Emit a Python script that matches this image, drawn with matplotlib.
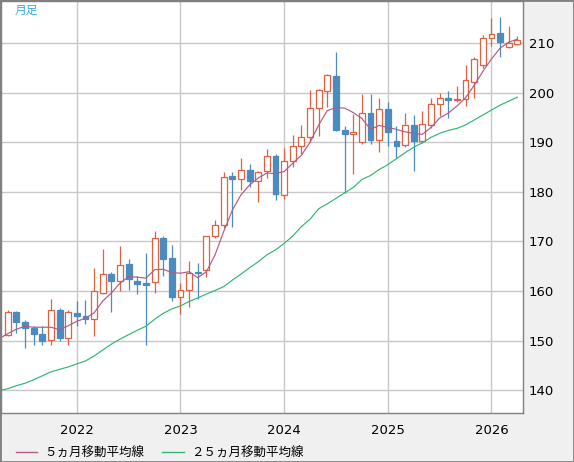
import matplotlib.pyplot as plt
import pandas as pd
from matplotlib.patches import Rectangle
from matplotlib.lines import Line2D

# months for the moving averages (first one has no candle, it is left of the plot)
months = pd.period_range("2021-04", "2026-04", freq="M")

# monthly candles 2021-05 .. 2026-04
opens = [151.1, 155.8, 153.8, 152.6, 151.3, 150.1, 156.2, 150.5, 155.5, 155.0,
         154.3, 159.7, 163.4, 162.1, 165.5, 162.1, 161.7, 161.8, 170.6, 166.7,
         158.7, 160.3, 163.8, 164.2, 171.0, 173.3, 183.2, 182.5, 184.4, 182.1,
         184.2, 187.2, 179.4, 186.3, 189.3, 191.0, 197.0, 200.4, 203.4, 192.5,
         191.7, 190.0, 196.0, 190.4, 196.8, 190.2, 189.5, 193.5, 190.2, 193.5,
         197.7, 198.9, 198.5, 198.8, 202.2, 205.5, 211.1, 212.1, 209.3, 209.8]
highs = [156.2, 156.0, 154.2, 153.0, 152.9, 158.4, 156.5, 156.2, 157.9, 158.2,
         164.7, 168.5, 163.9, 169.0, 166.5, 163.1, 167.7, 172.1, 171.0, 169.2,
         161.7, 166.0, 165.6, 171.2, 174.3, 184.0, 184.0, 186.9, 185.7, 184.2,
         188.6, 187.6, 188.9, 191.5, 193.5, 200.6, 200.8, 203.8, 208.2, 193.2,
         195.8, 199.7, 199.7, 198.9, 198.2, 193.2, 196.0, 195.6, 196.4, 198.9,
         199.9, 200.4, 201.4, 205.5, 207.3, 211.7, 215.0, 215.2, 213.4, 211.5]
lows = [151.0, 151.5, 148.5, 149.2, 149.2, 149.2, 149.9, 149.1, 152.9, 153.4,
        151.0, 159.5, 155.7, 160.0, 160.2, 159.5, 149.1, 159.7, 163.1, 158.0,
        155.3, 156.7, 158.4, 162.8, 170.6, 172.8, 173.0, 180.3, 181.0, 178.0,
        182.7, 178.4, 178.5, 185.1, 187.6, 190.1, 191.3, 197.2, 192.2, 179.8,
        183.6, 189.6, 189.6, 188.0, 189.2, 186.9, 189.0, 184.2, 189.8, 192.8,
        195.3, 195.0, 198.2, 197.4, 199.0, 205.0, 209.5, 207.2, 209.0, 209.6]
closes = [155.7, 153.7, 152.5, 151.3, 149.9, 156.1, 150.5, 155.8, 154.9, 154.3,
          160.0, 163.4, 162.1, 165.2, 162.4, 161.5, 161.3, 170.6, 166.5, 158.7,
          160.3, 163.7, 163.6, 171.0, 173.3, 183.1, 182.5, 184.4, 182.2, 184.0,
          187.2, 179.6, 186.3, 189.3, 191.0, 197.0, 200.6, 203.5, 192.5, 191.7,
          192.1, 196.0, 190.4, 196.7, 192.1, 189.2, 193.5, 190.2, 193.7, 197.7,
          198.9, 198.5, 198.8, 202.6, 206.8, 211.1, 211.8, 210.3, 210.0, 210.6]

# moving averages 2021-04 .. 2026-04
ma5 = [150.4,
       151.4, 152.3, 152.9, 152.7, 152.7, 152.7, 152.2, 153.0, 153.9, 154.5,
       155.6, 158.0, 159.6, 161.6, 162.9, 162.8, 162.6, 164.3, 164.4, 163.7,
       163.6, 163.9, 162.7, 163.9, 167.3, 172.0, 176.3, 179.4, 181.4, 182.8,
       183.8, 183.7, 184.1, 185.8, 187.4, 190.0, 193.5, 196.4, 197.0, 196.9,
       196.0, 194.8, 192.6, 193.4, 193.0, 192.6, 192.1, 191.8, 191.6, 193.0,
       194.9, 195.9, 197.3, 199.0, 201.5, 204.3, 206.8, 209.0, 210.2, 210.8]
ma25 = [139.9,
        140.3, 140.9, 141.4, 142.1, 142.9, 143.7, 144.2, 144.7, 145.3, 145.9,
        146.9, 148.1, 149.3, 150.3, 151.2, 152.1, 152.9, 154.3, 155.5, 156.4,
        157.0, 157.9, 158.6, 159.4, 160.1, 160.9, 162.2, 163.4, 164.7, 165.9,
        167.3, 168.3, 169.6, 171.1, 173.0, 174.5, 176.6, 177.6, 178.7, 179.8,
        180.9, 182.5, 183.3, 184.5, 185.5, 186.7, 187.9, 189.0, 189.9, 191.0,
        191.8, 192.4, 192.8, 193.5, 194.5, 195.5, 196.5, 197.5, 198.3, 199.1]

UP = "#dc6242"
DOWN = "#4b8bc0"
MA5_COL = "#b45a86"
MA25_COL = "#2fb774"
JP = ["Noto Sans CJK JP", "DejaVu Sans"]

fig = plt.figure(figsize=(5.74, 4.62), dpi=100, facecolor="#f0f0f0")
ax = fig.add_axes([1 / 574, 49 / 462, 522 / 574, 412 / 462])
ax.set_facecolor("white")

xs = range(1, len(months))
for i, o, h, l, c in zip(xs, opens, highs, lows, closes):
    up = c >= o
    col = UP if up else DOWN
    ax.vlines(i, l, h, color=col, lw=0.9, zorder=2)
    ax.bar(i, max(abs(c - o), 0.1), bottom=min(o, c), width=0.68,
           facecolor="white" if up else DOWN, edgecolor=col, lw=0.9, zorder=3)

ax.plot(range(len(months)), ma25, color=MA25_COL, lw=0.85, zorder=4)
ax.plot(range(len(months)), ma5, color=MA5_COL, lw=0.85, zorder=4)

jan = [i for i, m in enumerate(months) if m.month == 1]
ax.set_xticks(jan)
ax.set_xticklabels([str(months[i].year) for i in jan])
ax.set_yticks(range(140, 211, 10))
ax.set_xlim(0.22, 60.65)
ax.set_ylim(135.4, 218.5)
ax.grid(color="#c8c8c8", lw=1)
ax.set_axisbelow(True)
ax.yaxis.tick_right()
ax.tick_params(length=0, labelsize=9.5, colors="black")
ax.tick_params(axis="x", pad=8)
ax.tick_params(axis="y", pad=4)
for s in ax.spines.values():
    s.set_color("#808080")
    s.set_linewidth(1)

fig.text(15 / 574, 1 - 10 / 462, "月足", color="#33aaee", fontsize=8.5,
         family=JP, va="center", ha="left")

handles = [Line2D([], [], color=MA5_COL, lw=1), Line2D([], [], color=MA25_COL, lw=1)]
fig.legend(handles, ["５ヵ月移動平均線", "２５ヵ月移動平均線"], loc="center left",
           bbox_to_anchor=(16 / 574, 1 - 453 / 462), ncol=2, frameon=False,
           prop={"family": JP, "size": 9}, handlelength=1.7, handletextpad=0.6,
           columnspacing=1.4, borderpad=0, borderaxespad=0)

fig.patches.append(Rectangle((0, 0), 1, 1, transform=fig.transFigure, fill=False,
                             edgecolor="#808080", lw=2))

fig.savefig("out.png", dpi=100, facecolor=fig.get_facecolor())
